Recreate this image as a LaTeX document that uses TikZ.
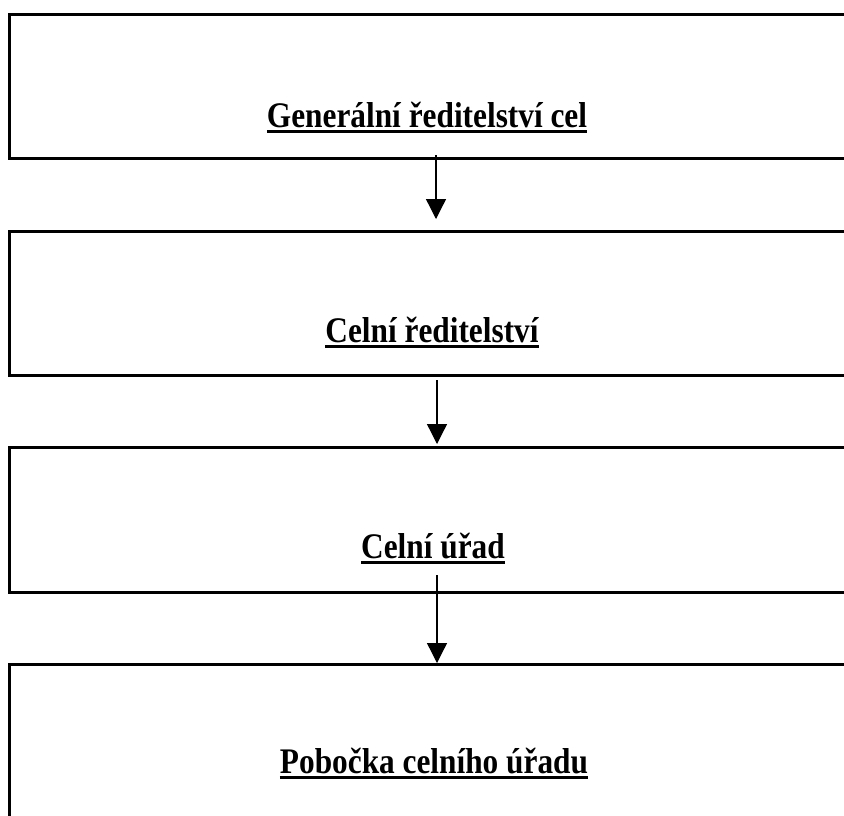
\documentclass[tikz,border=0pt]{standalone}
\usepackage{fontspec}
\newfontfamily\lab{Liberation Serif}[FakeStretch=0.87]
\usetikzlibrary{arrows.meta}
\tikzset{
  box/.style={draw=black, line width=3pt, outer sep=0pt, inner sep=0pt, anchor=north west, minimum width=900pt},
  lbl/.style={inner sep=0pt, outer sep=0pt, anchor=base, font=\lab\bfseries\fontsize{36}{40}\selectfont},
  ul/.style={line width=2.8pt, line cap=butt},
  arr/.style={line width=1.3pt, -{Triangle[length=20pt,width=20pt]}}
}
\begin{document}
\begin{tikzpicture}[x=1pt,y=-1pt]
\useasboundingbox (0,0) rectangle (844,815);
\fill[white] (0,0) rectangle (844,815);
\clip (0,0) rectangle (844,815);
% boxes
\node[box, minimum height=144pt] (b1) at (9,14) {};
\node[box, minimum height=144pt] (b2) at (9,231) {};
\node[box, minimum height=145pt] (b3) at (9,447) {};
\node[box, minimum height=200pt] (b4) at (9,664) {};
% labels
\node[lbl] (t1) at (427,127) {Generální ředitelství cel};
\node[lbl] (t2) at (432,342) {Celní ředitelství};
\node[lbl] (t3) at (433,558) {Celní úřad};
\node[lbl] (t4) at (434,773) {Pobočka celního úřadu};
\foreach \t in {t1,t2,t3,t4}{
  \draw[ul] ([yshift=-4.5pt]\t.base west) -- ([yshift=-4.5pt]\t.base east);
}
% arrow end points
\coordinate (a1s) at (436,155);
\coordinate (a1e) at (436,219);
\coordinate (a2s) at (437,380);
\coordinate (a2e) at (437,444);
\coordinate (a3s) at (437,575);
\coordinate (a3e) at (437,663);
\draw[arr] (a1s) -- (a1e);
\draw[arr] (a2s) -- (a2e);
\draw[arr] (a3s) -- (a3e);
\end{tikzpicture}
\end{document}
